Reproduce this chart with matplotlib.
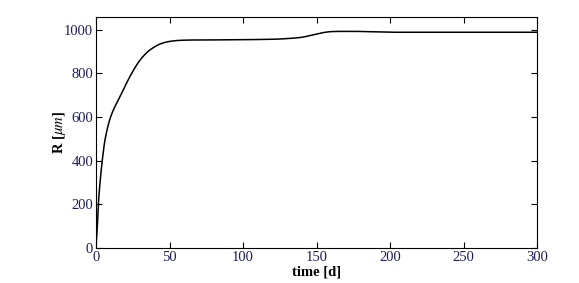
import numpy as np
import matplotlib
matplotlib.use("Agg")
import matplotlib.pyplot as plt

plt.rcParams['font.family'] = ['Liberation Serif', 'DejaVu Serif']
plt.rcParams['mathtext.fontset'] = 'stix'

# tumour radius over time
time_d = [0, 0.9, 1.6, 2.5, 4.3, 6.1, 10, 16.3, 24.3, 30, 36.7, 44.7, 50, 57, 65,
          80, 100, 120, 130, 140, 145, 150, 155, 160, 166, 175, 190, 200, 250, 300]
radius_um = [0, 98, 200, 281, 403, 494, 601, 693, 800, 861, 907, 937, 946, 951, 952.5,
             953, 954, 956, 959, 965, 972, 980, 987, 991, 992, 992, 990, 988, 988, 988]
xticks = [0, 50, 100, 150, 200, 250, 300]
yticks = [0, 200, 400, 600, 800, 1000]

# smooth the read-off points a little with a monotone cubic (pchip)
def pchip(x, y, xn):
    x = np.asarray(x, float); y = np.asarray(y, float)
    h = np.diff(x); d = np.diff(y) / h
    m = np.zeros_like(y)
    for k in range(1, len(x) - 1):
        if d[k-1] * d[k] > 0:
            w1 = 2*h[k] + h[k-1]; w2 = h[k] + 2*h[k-1]
            m[k] = (w1 + w2) / (w1/d[k-1] + w2/d[k])
    m[0] = d[0]; m[-1] = d[-1]
    idx = np.clip(np.searchsorted(x, xn) - 1, 0, len(h) - 1)
    t = (xn - x[idx]) / h[idx]
    h00 = 2*t**3 - 3*t**2 + 1; h10 = t**3 - 2*t**2 + t
    h01 = -2*t**3 + 3*t**2; h11 = t**3 - t**2
    return h00*y[idx] + h10*h[idx]*m[idx] + h01*y[idx+1] + h11*h[idx]*m[idx+1]

tt = np.linspace(0, 300, 3000)
rr = pchip(time_d, radius_um, tt)

fig = plt.figure(figsize=(5.79, 2.83), dpi=100)
ax = fig.add_axes([0.1658, 0.1237, 0.7617, 0.8163])
ax.plot(tt, rr, color='black', linewidth=1.1)

ax.set_xlim(0, 300)
ax.set_ylim(0, 1058)
ax.set_xticks(xticks)
ax.set_yticks(yticks)
ax.tick_params(direction='in', top=True, right=True, length=4, width=0.8,
               labelsize=10.5, labelcolor='#1c1c5c', pad=2)
for s in ax.spines.values():
    s.set_linewidth(0.8)
ax.set_xlabel('time [d]', fontweight='bold', fontsize=10.5, labelpad=1)
ax.set_ylabel(r'R [$\mu m$]', fontweight='bold', fontsize=10.5, labelpad=-3)

fig.savefig('out.png', dpi=100)
